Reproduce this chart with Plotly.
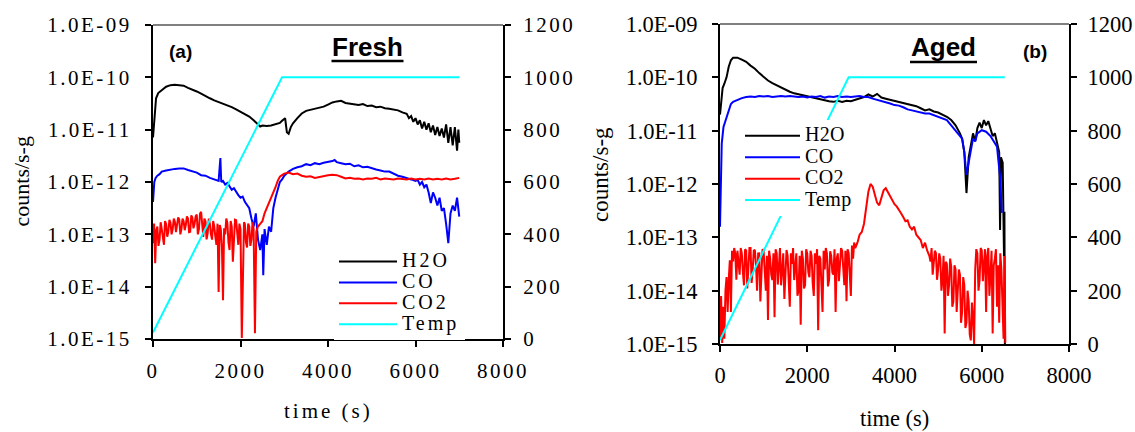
import plotly.graph_objects as go

W, H = 1135, 432

# ---------------- Panel (a) Fresh ----------------
t_h2o_fresh = [0, 20, 40, 70, 120, 200, 300, 400, 500, 600, 700, 800, 900, 1000, 1100, 1200, 1300, 1400,
               1500, 1600, 1700, 1800, 1900, 2000, 2100, 2200, 2300, 2400, 2450, 2500, 2600, 2700, 2800,
               2900, 2950, 3020, 3060, 3100, 3150, 3200, 3300, 3400, 3500, 3600, 3700, 3800, 3900, 4000,
               4100, 4200, 4300, 4400, 4500, 4600, 4700, 4800, 4900, 5000, 5100, 5200, 5300, 5400, 5500,
               5600, 5700, 5800, 5850, 5900, 5950, 6000, 6050, 6100, 6150, 6200, 6250, 6300, 6350, 6400,
               6450, 6500, 6550, 6600, 6650, 6700, 6750, 6800, 6850, 6900, 6950, 6980, 7000]
h2o_fresh = [7.08e-12, 1.12e-11, 1.78e-11, 3.98e-11, 5.01e-11, 5.75e-11, 6.61e-11, 7.08e-11, 7.24e-11,
             7.08e-11, 6.92e-11, 6.31e-11, 5.89e-11, 5.37e-11, 4.90e-11, 4.37e-11, 3.98e-11, 3.63e-11,
             3.39e-11, 3.16e-11, 2.95e-11, 2.69e-11, 2.45e-11, 2.19e-11, 2.00e-11, 1.78e-11, 1.51e-11,
             1.26e-11, 1.15e-11, 1.20e-11, 1.17e-11, 1.20e-11, 1.26e-11, 1.35e-11, 1.48e-11, 1.66e-11,
             8.91e-12, 8.32e-12, 1.12e-11, 1.32e-11, 1.66e-11, 2.04e-11, 2.29e-11, 2.40e-11, 2.57e-11,
             2.63e-11, 2.75e-11, 3.02e-11, 3.31e-11, 3.47e-11, 3.55e-11, 3.24e-11, 3.16e-11, 3.02e-11,
             2.95e-11, 3.09e-11, 2.82e-11, 2.88e-11, 2.69e-11, 2.75e-11, 2.57e-11, 2.51e-11, 2.40e-11,
             2.34e-11, 2.14e-11, 2.00e-11, 1.66e-11, 1.82e-11, 1.41e-11, 1.66e-11, 1.26e-11, 1.51e-11,
             1.05e-11, 1.41e-11, 1.00e-11, 1.32e-11, 8.91e-12, 1.20e-11, 7.94e-12, 1.12e-11, 7.59e-12,
             1.05e-11, 7.08e-12, 1.26e-11, 5.62e-12, 1.12e-11, 5.01e-12, 1.12e-11, 3.98e-12, 1.00e-11,
             5.62e-12]

t_co_fresh = [0, 30, 60, 100, 150, 200, 300, 400, 500, 600, 700, 800, 900, 1000, 1100, 1200, 1300, 1400,
              1500, 1540, 1560, 1600, 1650, 1700, 1750, 1800, 1850, 1900, 1950, 2000, 2050, 2100, 2150,
              2200, 2250, 2300, 2350, 2400, 2450, 2500, 2520, 2550, 2600, 2650, 2700, 2750, 2800, 2850,
              2900, 2950, 3000, 3100, 3200, 3300, 3400, 3500, 3600, 3700, 3800, 3900, 4000, 4100, 4150,
              4200, 4300, 4400, 4500, 4600, 4700, 4800, 4900, 5000, 5100, 5200, 5300, 5400, 5500, 5600,
              5700, 5800, 5900, 6000, 6050, 6100, 6150, 6200, 6250, 6300, 6350, 6400, 6450, 6500, 6550,
              6600, 6650, 6700, 6750, 6800, 6850, 6900, 6950, 7000]
co_fresh = [4.17e-13, 1.00e-12, 1.20e-12, 1.32e-12, 1.41e-12, 1.58e-12, 1.66e-12, 1.74e-12, 1.78e-12,
            1.82e-12, 1.82e-12, 1.70e-12, 1.58e-12, 1.51e-12, 1.35e-12, 1.32e-12, 1.20e-12, 1.12e-12,
            1.05e-12, 2.88e-12, 1.00e-12, 1.05e-12, 8.91e-13, 9.55e-13, 7.94e-13, 7.08e-13, 7.59e-13,
            6.31e-13, 5.62e-13, 5.01e-13, 5.25e-13, 4.17e-13, 3.55e-13, 3.16e-13, 2.00e-13, 1.41e-13,
            2.51e-13, 7.94e-14, 5.01e-14, 1.00e-13, 1.66e-14, 1.26e-13, 6.31e-14, 1.41e-13, 1.12e-13,
            3.16e-13, 5.01e-13, 7.08e-13, 1.00e-12, 1.12e-12, 1.32e-12, 1.58e-12, 1.78e-12, 1.91e-12,
            2.00e-12, 2.19e-12, 2.09e-12, 2.29e-12, 2.19e-12, 2.34e-12, 2.40e-12, 2.51e-12, 2.63e-12,
            2.40e-12, 2.29e-12, 2.19e-12, 2.24e-12, 2.00e-12, 2.09e-12, 1.91e-12, 1.95e-12, 1.82e-12,
            1.74e-12, 1.66e-12, 1.58e-12, 1.58e-12, 1.45e-12, 1.32e-12, 1.26e-12, 1.17e-12, 1.12e-12,
            1.05e-12, 1.10e-12, 8.91e-13, 1.00e-12, 7.94e-13, 8.91e-13, 6.31e-13, 3.98e-13, 6.31e-13,
            5.01e-13, 3.55e-13, 5.01e-13, 2.82e-13, 3.16e-13, 1.58e-13, 6.76e-14, 2.51e-13, 3.55e-13,
            2.82e-13, 5.01e-13, 2.19e-13]

t_co2_fresh = [0, 25, 50, 75, 100, 125, 150, 175, 200, 225, 250, 275, 300, 325, 350, 375, 400, 425, 450,
               475, 500, 525, 550, 575, 600, 625, 650, 675, 700, 725, 750, 775, 800, 825, 850, 875, 900,
               925, 950, 975, 1000, 1025, 1050, 1075, 1100, 1125, 1150, 1175, 1200, 1225, 1250, 1275, 1300,
               1325, 1350, 1375, 1400, 1425, 1450, 1475, 1500, 1525, 1550, 1575, 1600, 1625, 1650, 1675,
               1700, 1725, 1750, 1775, 1800, 1825, 1850, 1875, 1900, 1925, 1950, 1975, 2000, 2030, 2060,
               2080, 2100, 2125, 2150, 2175, 2200, 2225, 2250, 2275, 2300, 2330, 2360, 2400, 2450, 2500,
               2550, 2600, 2650, 2700, 2750, 2800, 2850, 2900, 2950, 3000, 3100, 3200, 3300, 3400, 3500,
               3600, 3700, 3800, 3900, 4000, 4100, 4200, 4300, 4400, 4500, 4600, 4700, 4800, 4900, 5000,
               5100, 5200, 5300, 5400, 5500, 5600, 5700, 5800, 5900, 6000, 6100, 6200, 6300, 6400, 6500,
               6600, 6700, 6800, 6900, 7000]
co2_fresh = [6.76e-14, 1.60e-13, 2.82e-14, 1.20e-13, 1.41e-13, 6.00e-14, 7.94e-14, 1.70e-13, 1.26e-13,
             8.00e-14, 6.31e-14, 1.80e-13, 1.58e-13, 9.00e-14, 1.12e-13, 1.90e-13, 1.66e-13, 1.00e-13,
             1.26e-13, 2.00e-13, 1.74e-13, 1.10e-13, 1.41e-13, 2.10e-13, 1.91e-13, 1.00e-13, 1.26e-13,
             2.00e-13, 1.78e-13, 1.20e-13, 1.51e-13, 2.20e-13, 2.00e-13, 1.10e-13, 1.12e-13, 2.30e-13,
             2.09e-13, 1.30e-13, 1.58e-13, 2.20e-13, 2.40e-13, 1.00e-13, 1.26e-13, 2.50e-13, 2.69e-13,
             1.20e-13, 8.91e-14, 2.00e-13, 1.78e-13, 8.00e-14, 1.05e-13, 2.00e-13, 1.58e-13, 1.00e-13,
             7.94e-14, 1.80e-13, 1.41e-13, 9.00e-14, 6.31e-14, 1.60e-13, 7.94e-15, 1.50e-13, 1.26e-13,
             6.00e-14, 5.50e-15, 1.30e-13, 1.00e-13, 2.00e-13, 1.66e-13, 7.00e-14, 5.01e-14, 1.80e-13,
             1.41e-13, 3.00e-14, 7.08e-14, 1.90e-13, 1.86e-13, 9.00e-14, 6.31e-14, 1.60e-13, 1.26e-13,
             1.05e-15, 1.00e-13, 1.70e-13, 1.58e-13, 7.00e-14, 5.62e-14, 1.60e-13, 1.41e-13, 6.00e-14,
             7.94e-14, 1.70e-13, 1.26e-13, 1.29e-15, 1.12e-13, 1.41e-13, 1.58e-13, 1.78e-13, 2.51e-13,
             3.16e-13, 3.80e-13, 5.01e-13, 6.31e-13, 7.94e-13, 1.05e-12, 1.26e-12, 1.35e-12, 1.45e-12,
             1.51e-12, 1.41e-12, 1.45e-12, 1.32e-12, 1.26e-12, 1.29e-12, 1.20e-12, 1.26e-12, 1.32e-12,
             1.35e-12, 1.38e-12, 1.35e-12, 1.26e-12, 1.17e-12, 1.20e-12, 1.15e-12, 1.17e-12, 1.12e-12,
             1.17e-12, 1.15e-12, 1.20e-12, 1.12e-12, 1.17e-12, 1.15e-12, 1.12e-12, 1.17e-12, 1.15e-12,
             1.12e-12, 1.17e-12, 1.12e-12, 1.15e-12, 1.12e-12, 1.17e-12, 1.12e-12, 1.15e-12, 1.12e-12,
             1.17e-12, 1.12e-12, 1.15e-12, 1.20e-12]

t_temp_fresh = [0, 2950, 7000]
temp_fresh = [25, 1000, 1000]

# ---------------- Panel (b) Aged ----------------
t_h2o_aged = [0, 30, 60, 100, 150, 200, 250, 300, 400, 500, 600, 700, 800, 900, 1000, 1100, 1200, 1300,
              1400, 1500, 1600, 1700, 1800, 1900, 2000, 2100, 2200, 2300, 2400, 2500, 2600, 2700, 2800,
              2900, 3000, 3100, 3200, 3300, 3400, 3500, 3600, 3700, 3800, 3900, 4000, 4100, 4200, 4300,
              4400, 4500, 4600, 4700, 4800, 4900, 5000, 5100, 5200, 5300, 5400, 5500, 5550, 5600, 5650,
              5700, 5750, 5800, 5850, 5900, 5950, 6000, 6050, 6100, 6150, 6200, 6250, 6300, 6350, 6400,
              6420, 6440, 6480, 6500, 6510, 6520, 6530]
h2o_aged = [2.00e-11, 3.98e-11, 6.31e-11, 7.59e-11, 1.00e-10, 1.58e-10, 2.09e-10, 2.34e-10, 2.34e-10,
            2.14e-10, 1.95e-10, 1.66e-10, 1.45e-10, 1.20e-10, 1.00e-10, 8.71e-11, 7.76e-11, 7.08e-11,
            6.31e-11, 5.75e-11, 5.37e-11, 5.01e-11, 4.79e-11, 4.57e-11, 4.37e-11, 4.17e-11, 3.98e-11,
            3.89e-11, 3.63e-11, 3.55e-11, 3.47e-11, 3.63e-11, 3.47e-11, 3.63e-11, 3.55e-11, 3.80e-11,
            4.07e-11, 4.27e-11, 4.79e-11, 4.37e-11, 4.90e-11, 4.17e-11, 3.98e-11, 3.80e-11, 3.63e-11,
            3.47e-11, 3.31e-11, 3.16e-11, 3.02e-11, 2.88e-11, 2.63e-11, 2.40e-11, 2.51e-11, 2.29e-11,
            2.19e-11, 2.00e-11, 1.82e-11, 1.58e-11, 1.26e-11, 8.91e-12, 7.08e-12, 3.98e-12, 6.76e-13,
            3.16e-12, 5.01e-12, 8.91e-12, 6.31e-12, 1.12e-11, 1.41e-11, 1.12e-11, 1.58e-11, 1.26e-11,
            1.51e-11, 1.12e-11, 7.94e-12, 8.91e-12, 6.31e-12, 3.98e-12, 1.38e-13, 3.16e-12, 2.51e-12,
            3.16e-13, 4.47e-14, 3.02e-13, 1.00e-15]

t_co_aged = [0, 20, 40, 80, 150, 200, 250, 300, 400, 500, 600, 700, 800, 900, 1000, 1100, 1200, 1300, 1400,
             1500, 1600, 1700, 1800, 1900, 2000, 2100, 2200, 2300, 2400, 2500, 2600, 2700, 2800, 2900, 3000,
             3100, 3200, 3300, 3400, 3500, 3600, 3700, 3800, 3900, 4000, 4100, 4200, 4300, 4400, 4500, 4600,
             4700, 4800, 4900, 5000, 5100, 5200, 5300, 5400, 5500, 5550, 5600, 5650, 5700, 5750, 5800, 5850,
             5900, 6000, 6100, 6200, 6300, 6350, 6380, 6420, 6440, 6460]
co_aged = [1.58e-13, 2.00e-12, 5.75e-12, 1.17e-11, 1.82e-11, 2.51e-11, 3.16e-11, 3.47e-11, 3.80e-11,
           4.07e-11, 4.27e-11, 4.37e-11, 4.27e-11, 4.47e-11, 4.37e-11, 4.47e-11, 4.27e-11, 4.37e-11,
           4.47e-11, 4.37e-11, 4.47e-11, 4.37e-11, 4.27e-11, 4.37e-11, 4.17e-11, 4.37e-11, 4.27e-11,
           4.47e-11, 4.17e-11, 4.37e-11, 4.27e-11, 4.47e-11, 4.27e-11, 4.37e-11, 4.27e-11, 4.37e-11,
           4.47e-11, 4.27e-11, 4.27e-11, 3.98e-11, 3.80e-11, 3.55e-11, 3.39e-11, 3.24e-11, 3.02e-11,
           2.95e-11, 2.75e-11, 2.51e-11, 2.40e-11, 2.29e-11, 2.19e-11, 2.09e-11, 2.09e-11, 1.95e-11,
           1.86e-11, 1.70e-11, 1.58e-11, 1.26e-11, 1.00e-11, 7.94e-12, 7.08e-12, 3.98e-12, 1.48e-12,
           2.51e-12, 4.47e-12, 7.08e-12, 6.31e-12, 8.91e-12, 1.02e-11, 9.55e-12, 7.94e-12, 5.75e-12,
           5.01e-12, 2.82e-12, 1.38e-12, 6.31e-13, 2.88e-13]

t_co2_aged = [0, 25, 50, 75, 100, 125, 150, 175, 200, 225, 250, 275, 300, 325, 350, 375, 400, 425, 450, 475,
              500, 525, 550, 575, 600, 625, 650, 675, 700, 725, 750, 775, 800, 825, 850, 875, 900, 925, 950,
              975, 1000, 1025, 1050, 1075, 1100, 1125, 1150, 1175, 1200, 1225, 1250, 1275, 1300, 1325, 1350,
              1375, 1400, 1425, 1450, 1475, 1500, 1525, 1550, 1575, 1600, 1625, 1650, 1675, 1700, 1725, 1750,
              1775, 1800, 1825, 1850, 1875, 1900, 1925, 1950, 1975, 2000, 2025, 2050, 2075, 2100, 2125, 2150,
              2175, 2200, 2225, 2250, 2275, 2300, 2325, 2350, 2375, 2400, 2425, 2450, 2475, 2500, 2525, 2550,
              2575, 2600, 2625, 2650, 2675, 2700, 2725, 2750, 2775, 2800, 2825, 2850, 2875, 2900, 2925, 2950,
              2975, 3000, 3025, 3050, 3075, 3100, 3150, 3200, 3250, 3300, 3350, 3400, 3450, 3500, 3550, 3600,
              3650, 3700, 3750, 3800, 3850, 3900, 3950, 4000, 4050, 4100, 4150, 4200, 4250, 4300, 4350, 4400,
              4450, 4500, 4550, 4600, 4650, 4700, 4750, 4800, 4825, 4850, 4875, 4900, 4925, 4950, 4975, 5000,
              5025, 5050, 5075, 5100, 5125, 5150, 5175, 5200, 5225, 5250, 5275, 5300, 5325, 5350, 5375, 5400,
              5425, 5450, 5475, 5500, 5525, 5550, 5575, 5600, 5625, 5650, 5675, 5700, 5725, 5750, 5775, 5800,
              5825, 5850, 5875, 5900, 5925, 5950, 5975, 6000, 6025, 6050, 6075, 6100, 6125, 6150, 6175, 6200,
              6225, 6250, 6275, 6300, 6325, 6350, 6375, 6400, 6425, 6450, 6475, 6500, 6520, 6540]
co2_aged = [1.26e-15, 7.94e-15, 1.05e-15, 5.00e-15, 1.26e-15, 1.00e-14, 1.80e-14, 4.00e-15, 1.58e-14,
            3.70e-14, 3.98e-15, 5.60e-14, 3.55e-14, 6.30e-14, 5.01e-14, 1.60e-14, 5.62e-14, 3.20e-14,
            2.00e-14, 6.30e-14, 5.01e-14, 2.20e-14, 1.26e-14, 6.00e-14, 5.62e-14, 1.10e-14, 3.16e-14,
            6.30e-14, 6.31e-14, 1.40e-14, 2.51e-14, 5.80e-14, 5.62e-14, 3.00e-14, 1.00e-14, 5.00e-14,
            5.01e-14, 6.30e-15, 2.00e-14, 6.00e-14, 5.62e-14, 2.50e-14, 1.00e-14, 4.50e-14, 2.82e-15,
            5.60e-14, 3.98e-14, 2.00e-14, 1.58e-14, 5.00e-14, 3.16e-15, 6.00e-14, 5.01e-14, 1.30e-14,
            2.51e-14, 6.30e-14, 1.26e-14, 3.50e-14, 5.01e-14, 7.00e-15, 2.00e-14, 5.80e-14, 4.47e-14,
            1.60e-14, 5.01e-15, 5.00e-14, 3.16e-14, 6.30e-14, 1.58e-14, 2.80e-14, 5.01e-14, 8.00e-15,
            1.00e-14, 4.50e-14, 2.29e-15, 5.60e-14, 3.98e-14, 1.10e-14, 1.26e-14, 6.00e-14, 5.01e-14,
            2.20e-14, 1.78e-14, 5.60e-14, 4.47e-14, 1.40e-14, 7.94e-15, 5.00e-14, 3.16e-14, 6.00e-14,
            1.82e-15, 4.50e-14, 3.98e-14, 1.30e-14, 3.98e-15, 5.60e-14, 2.51e-14, 6.30e-14, 5.01e-14,
            1.20e-14, 1.58e-14, 5.50e-14, 4.47e-14, 2.20e-14, 2.00e-14, 6.00e-14, 3.98e-15, 4.00e-14,
            5.01e-14, 1.50e-14, 2.82e-14, 6.30e-14, 5.62e-14, 2.50e-14, 1.26e-14, 5.60e-14, 6.31e-15,
            6.00e-14, 5.01e-14, 2.00e-14, 7.94e-15, 7.00e-14, 3.98e-14, 8.00e-14, 6.31e-14, 7.94e-14,
            1.12e-13, 1.26e-13, 1.78e-13, 3.55e-13, 7.08e-13, 1.00e-12, 8.91e-13, 6.31e-13, 4.47e-13,
            3.98e-13, 5.62e-13, 7.59e-13, 8.32e-13, 7.08e-13, 6.03e-13, 5.01e-13, 4.17e-13, 3.80e-13,
            3.16e-13, 2.82e-13, 2.40e-13, 2.00e-13, 2.09e-13, 1.58e-13, 1.41e-13, 1.58e-13, 1.12e-13,
            1.00e-13, 8.91e-14, 6.31e-14, 7.94e-14, 5.62e-14, 4.47e-14, 3.50e-14, 6.31e-14, 2.00e-14,
            3.16e-14, 5.60e-14, 5.01e-14, 1.60e-14, 2.51e-14, 5.00e-14, 3.98e-14, 1.00e-14, 1.58e-14,
            4.50e-14, 1.58e-15, 3.50e-14, 3.16e-14, 8.00e-15, 1.26e-14, 4.00e-14, 2.82e-14, 5.00e-15,
            6.31e-15, 3.00e-14, 2.51e-14, 4.00e-15, 1.00e-14, 2.50e-14, 2.00e-14, 2.50e-15, 3.98e-15,
            1.80e-14, 1.26e-14, 2.00e-15, 2.51e-15, 1.00e-14, 6.31e-15, 1.50e-15, 1.17e-15, 6.00e-15,
            3.16e-15, 1.00e-15, 2.51e-14, 6.00e-14, 5.01e-14, 1.00e-14, 1.58e-14, 6.30e-14, 5.75e-14,
            1.50e-14, 3.16e-14, 6.00e-14, 3.98e-15, 4.50e-14, 6.31e-14, 8.00e-15, 2.00e-14, 5.60e-14,
            1.58e-15, 3.00e-14, 3.98e-14, 6.00e-14, 5.01e-15, 3.00e-14, 2.51e-15, 5.00e-14, 2.51e-14,
            6.30e-15, 1.26e-15, 4.47e-14, 1.05e-15]

t_temp_aged = [0, 2948, 6528]
temp_aged = [15, 1000, 1000]

# ---------------- axis labels ----------------
decade_vals = [1e-15, 1e-14, 1e-13, 1e-12, 1e-11, 1e-10, 1e-9]
decade_text = ["1.0E-15", "1.0E-14", "1.0E-13", "1.0E-12", "1.0E-11", "1.0E-10", "1.0E-09"]
temp_ticks = [0, 200, 400, 600, 800, 1000, 1200]
time_ticks = [0, 2000, 4000, 6000, 8000]


def spaced(s, ls=2.5):
    return f'<span style="letter-spacing:{ls}px">{s}</span>'


def xp(px):
    return px / W


def yp(py):
    return 1 - py / H


SERIF = "Liberation Serif, Times New Roman, serif"
SANS = "Liberation Sans, Arial, sans-serif"

fig = go.Figure()

colors = {"H2O": "#000000", "CO": "#0000FF", "CO2": "#FF0000", "Temp": "#00FFFF"}


def leg_text(name, size, ls):
    return f'<span style="font-size:{size}px;letter-spacing:{ls}px">{name}</span>'


LW = 2
series_a = [("H2O", t_h2o_fresh, h2o_fresh, "y"), ("CO", t_co_fresh, co_fresh, "y"),
            ("CO2", t_co2_fresh, co2_fresh, "y"), ("Temp", t_temp_fresh, temp_fresh, "y2")]
series_b = [("H2O", t_h2o_aged, h2o_aged, "y3"), ("CO", t_co_aged, co_aged, "y3"),
            ("CO2", t_co2_aged, co2_aged, "y3"), ("Temp", t_temp_aged, temp_aged, "y4")]
for nm, tx, vy, ya in series_a:
    fig.add_trace(go.Scatter(x=tx, y=vy, mode="lines", name=leg_text(nm, 20, 3),
                             line=dict(color=colors[nm], width=LW), xaxis="x", yaxis=ya, legend="legend"))
for nm, tx, vy, ya in series_b:
    fig.add_trace(go.Scatter(x=tx, y=vy, mode="lines", name=leg_text(nm, 20, 0.3),
                             line=dict(color=colors[nm], width=LW), xaxis="x2", yaxis=ya, legend="legend2"))

L_X = [xp(153), xp(503)]
L_Y = [yp(339), yp(25)]
R_X = [xp(720), xp(1069)]
R_Y = [yp(344), yp(24)]

common_x = dict(range=[0, 8000], tickvals=time_ticks, ticks="outside", ticklen=6, tickwidth=1.5,
                tickcolor="black", showline=True, linecolor="black", linewidth=2, showgrid=False,
                zeroline=False, automargin=False)
common_log = dict(type="log", range=[-15, -9], tickvals=decade_vals, ticks="outside", ticklen=6,
                  tickwidth=1.5, tickcolor="black", showline=True, linecolor="black", linewidth=2,
                  showgrid=False, zeroline=False, automargin=False)
common_temp = dict(range=[0, 1200], tickvals=temp_ticks, ticks="outside", ticklen=6, tickwidth=1.5,
                   tickcolor="black", showline=True, linecolor="black", linewidth=2, showgrid=False,
                   zeroline=False, side="right", automargin=False)
inner_temp = dict(range=[0, 1200], tickvals=temp_ticks, ticks="inside", ticklen=7, tickwidth=1.5,
                  tickcolor="black", showline=False, showgrid=False, zeroline=False, side="right",
                  showticklabels=False, automargin=False)

fontL = dict(family=SERIF, size=21, color="black")
fontR = dict(family=SERIF, size=22.5, color="black")

fig.update_layout(
    width=W, height=H, autosize=False,
    margin=dict(l=0, r=0, t=0, b=0, pad=0, autoexpand=False),
    paper_bgcolor="white", plot_bgcolor="white",
    xaxis=dict(domain=L_X, anchor="y", ticktext=[spaced(str(v)) for v in time_ticks],
               tickfont=fontL, ticklabelstandoff=6, **common_x),
    yaxis=dict(domain=L_Y, anchor="x", ticktext=[spaced(s) for s in decade_text],
               tickfont=fontL, ticklabelstandoff=9, **common_log),
    yaxis2=dict(overlaying="y", anchor="x", ticktext=[spaced(str(v)) for v in temp_ticks],
                tickfont=fontL, ticklabelstandoff=8, **common_temp),
    yaxis5=dict(overlaying="y", anchor="x", **inner_temp),
    xaxis2=dict(domain=R_X, anchor="y3", ticktext=[str(v) for v in time_ticks],
                tickfont=fontR, ticklabelstandoff=4, **common_x),
    yaxis3=dict(domain=R_Y, anchor="x2", ticktext=decade_text, tickfont=fontR,
                ticklabelstandoff=10, **common_log),
    yaxis4=dict(overlaying="y3", anchor="x2", ticktext=[str(v) for v in temp_ticks],
                tickfont=fontR, ticklabelstandoff=6, **common_temp),
    yaxis6=dict(overlaying="y3", anchor="x2", **inner_temp),
    legend=dict(x=xp(334), y=yp(246), xanchor="left", yanchor="top", bgcolor="white",
                borderwidth=0, itemwidth=58, font=dict(family=SERIF, size=13.8, color="black"),
                tracegroupgap=0, traceorder="normal"),
    legend2=dict(x=xp(740), y=yp(120), xanchor="left", yanchor="top", bgcolor="white",
                 borderwidth=0, itemwidth=55, font=dict(family=SERIF, size=14.2, color="black"),
                 tracegroupgap=0, traceorder="normal"),
    showlegend=True,
)

# top borders (gray) and title underlines
for (x0, x1, y) in [(153, 503, 25), (720, 1069, 24)]:
    fig.add_shape(type="line", xref="paper", yref="paper", x0=xp(x0), x1=xp(x1), y0=yp(y), y1=yp(y),
                  line=dict(color="#808080", width=2))
for (x0, x1, y) in [(331.5, 403.5, 61), (910, 977, 62)]:
    fig.add_shape(type="line", xref="paper", yref="paper", x0=xp(x0), x1=xp(x1), y0=yp(y), y1=yp(y),
                  line=dict(color="black", width=2.5))

annotations = [
    dict(text="<b>(a)</b>", x=xp(180.5), y=yp(51), font=dict(family=SANS, size=19, color="black")),
    dict(text="<b>Fresh</b>", x=xp(367.5), y=yp(47), font=dict(family=SANS, size=26, color="black")),
    dict(text="<b>(b)</b>", x=xp(1035), y=yp(51), font=dict(family=SANS, size=19, color="black")),
    dict(text="<b>Aged</b>", x=xp(943.5), y=yp(47), font=dict(family=SANS, size=26, color="black")),
    dict(text=spaced("time (s)", 3), x=xp(328), y=yp(411), font=fontL),
    dict(text="time (s)", x=xp(894.5), y=yp(418), font=fontR),
    dict(text="counts/s-g", x=xp(20.5), y=yp(182), textangle=-90, font=dict(family=SERIF, size=22, color="black")),
    dict(text="counts/s-g", x=xp(600), y=yp(175), textangle=-90, font=dict(family=SERIF, size=23, color="black")),
]
for a in annotations:
    a.update(xref="paper", yref="paper", showarrow=False, xanchor="center", yanchor="middle")
    fig.add_annotation(**a)

fig.write_html("out.html")
